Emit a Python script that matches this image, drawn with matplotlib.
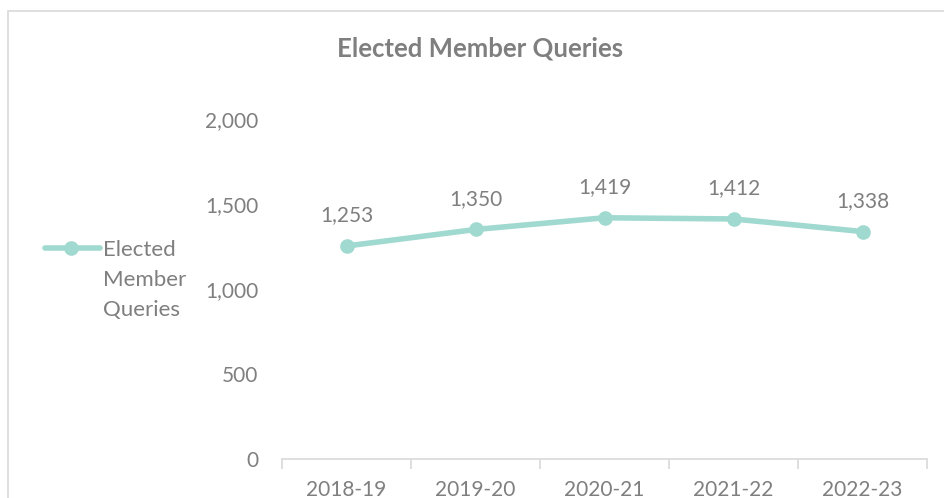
import matplotlib.pyplot as plt
from matplotlib.patches import Rectangle
from matplotlib.lines import Line2D
from matplotlib.ticker import FuncFormatter

years = ['2018-19', '2019-20', '2020-21', '2021-22', '2022-23']
queries = [1253, 1350, 1419, 1412, 1338]

plt.rcParams['font.family'] = ['Lato', 'DejaVu Sans']
grey = '#7f7f7f'
teal = '#a0d9cf'

fig = plt.figure(figsize=(9.44, 4.98), dpi=100)
# chart border
fig.patches.append(Rectangle((8/944, -0.1), 1.1, 1 - 11/498 + 0.1, transform=fig.transFigure,
                             fill=False, edgecolor='#d9d9d9', linewidth=1.2))

ax = fig.add_axes([282/944, 1 - 459/498, 645/944, (459 - 119)/498])
x = range(len(years))
ax.plot(x, queries, color=teal, linewidth=4, marker='o', markersize=9.5,
        solid_capstyle='round')
for i, v in enumerate(queries):
    ax.annotate(f'{v:,}', (i, v), xytext=(0, 15), textcoords='offset points',
                ha='center', va='bottom', fontsize=15, color=grey)

ax.set_xlim(-0.5, len(years) - 0.5)
ax.set_ylim(0, 2000)
ax.set_yticks([0, 500, 1000, 1500, 2000])
ax.yaxis.set_major_formatter(FuncFormatter(lambda v, p: f'{int(v):,}'))
ax.set_xticks([i - 0.5 for i in range(len(years) + 1)], minor=False)
ax.set_xticklabels([])
ax.set_xticks(list(x), minor=True)
ax.set_xticklabels(years, minor=True)
ax.tick_params(axis='x', which='major', length=7, color='#d9d9d9', width=1.2, direction='out')
ax.tick_params(axis='x', which='minor', length=0, pad=15, labelsize=15, labelcolor=grey)
ax.tick_params(axis='y', length=0, pad=17, labelsize=15, labelcolor=grey)
for s in ['top', 'right', 'left']:
    ax.spines[s].set_visible(False)
ax.spines['bottom'].set_color('#d9d9d9')
ax.spines['bottom'].set_linewidth(1.2)

fig.text(480/944, 1 - 49/498, 'Elected Member Queries', ha='center', va='center',
         fontsize=18.5, fontweight='bold', color=grey)

# legend (handle beside first line of a wrapped label)
ly = 1 - 248/498
fig.add_artist(Line2D([45/944, 100/944], [ly, ly], transform=fig.transFigure, color=teal,
                      linewidth=4, solid_capstyle='round'))
fig.add_artist(Line2D([71/944], [ly], transform=fig.transFigure, color=teal,
                      marker='o', markersize=9.5))
fig.text(103/944, 1 - 240/498, 'Elected\nMember\nQueries', ha='left', va='top',
         fontsize=16, color=grey, linespacing=1.62)

fig.savefig('out.png', dpi=100)
